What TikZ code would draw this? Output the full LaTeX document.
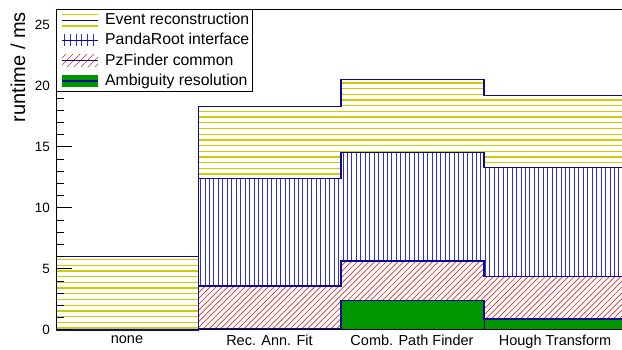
\documentclass[tikz,border=0pt]{standalone}
\usepackage{fontspec}
\setmainfont{Liberation Sans}
\usepackage{xcolor}
\usepackage{tikz}

\definecolor{evtyellow}{RGB}{205,205,0}
\definecolor{pndblue}{RGB}{45,45,230}
\definecolor{pzred}{RGB}{225,45,45}
\definecolor{ambgreen}{RGB}{0,150,0}
\definecolor{navy}{RGB}{10,10,150}

\tikzset{
  evt/.style={draw=evtyellow, line width=1.3pt},
  pnd/.style={draw=pndblue, line width=0.6pt},
  pzf/.style={draw=pzred, line width=0.65pt},
  histline/.style={draw=navy, line width=1.2pt},
  axisline/.style={draw=black, line width=1pt},
  ticklab/.style={anchor=east, inner sep=0pt, font=\fontsize{13.5}{14}\selectfont},
  binlab/.style={anchor=base, inner sep=0pt, font=\fontsize{14.5}{15}\selectfont},
  leglab/.style={anchor=base west, inner sep=0pt, font=\fontsize{15.8}{16}\selectfont},
}

% ms -> pt on the y axis
\newcommand{\ms}[1]{20+12.2*#1}

% hatched boxes: x0, y0, x1, y1 (pt)
\newcommand{\hatchevt}[4]{%
  \begin{scope}
    \clip ({#1},{#2}) rectangle ({#3},{#4});
    \fill[white] ({#1},{#2}) rectangle ({#3},{#4});
    \foreach \hy in {4.9,10.6,...,345} \draw[evt] ({#1},\hy) -- ({#3},\hy);
  \end{scope}}
\newcommand{\hatchpnd}[4]{%
  \begin{scope}
    \clip ({#1},{#2}) rectangle ({#3},{#4});
    \fill[white] ({#1},{#2}) rectangle ({#3},{#4});
    \foreach \hx in {58,62.45,...,630} \draw[pnd] (\hx,{#2}) -- (\hx,{#4});
  \end{scope}}
\newcommand{\hatchpzf}[4]{%
  \begin{scope}
    \clip ({#1},{#2}) rectangle ({#3},{#4});
    \fill[white] ({#1},{#2}) rectangle ({#3},{#4});
    \foreach \hc in {-340,-334.2,...,630} \draw[pzf] (\hc,0) -- ({\hc+350},350);
  \end{scope}}

\begin{document}
\begin{tikzpicture}[x=1pt, y=1pt]
    \useasboundingbox (0,0) rectangle (622,350);

    % stacked bins
    \hatchevt{56}{\ms{0}}{198.5}{\ms{6.0}}

    \fill[ambgreen] (198.5,{\ms{0}}) rectangle (341,{\ms{0.1}});
    \hatchpzf{198.5}{\ms{0.1}}{341}{\ms{3.6}}
    \hatchpnd{198.5}{\ms{3.6}}{341}{\ms{12.4}}
    \hatchevt{198.5}{\ms{12.4}}{341}{\ms{18.35}}

    \fill[ambgreen] (341,{\ms{0}}) rectangle (484,{\ms{2.4}});
    \hatchpzf{341}{\ms{2.4}}{484}{\ms{5.65}}
    \hatchpnd{341}{\ms{5.65}}{484}{\ms{14.55}}
    \hatchevt{341}{\ms{14.55}}{484}{\ms{20.5}}

    \fill[ambgreen] (484,{\ms{0}}) rectangle (627,{\ms{0.9}});
    \hatchpzf{484}{\ms{0.9}}{627}{\ms{4.4}}
    \hatchpnd{484}{\ms{4.4}}{627}{\ms{13.3}}
    \hatchevt{484}{\ms{13.3}}{627}{\ms{19.2}}

    % frame
    \draw[axisline] (56,340) -- (622,340);
    \draw[axisline] (56,20) -- (56,340);
    \draw[axisline] (56,20) -- (622,20);
    \draw[black, line width=0.8pt] (484,{\ms{0}}) -- (484,{\ms{0.9}});

    % outlines of the stacked histograms
    \draw[histline] (56,{\ms{0}}) -- (198.5,{\ms{0}}) -- (198.5,{\ms{0.1}}) -- (341,{\ms{0.1}})
        -- (341,{\ms{2.4}}) -- (484,{\ms{2.4}}) -- (484,{\ms{0.9}}) -- (627,{\ms{0.9}});
    \draw[histline] (56,{\ms{0}}) -- (198.5,{\ms{0}}) -- (198.5,{\ms{3.6}}) -- (341,{\ms{3.6}})
        -- (341,{\ms{5.65}}) -- (484,{\ms{5.65}}) -- (484,{\ms{4.4}}) -- (627,{\ms{4.4}});
    \draw[histline] (56,{\ms{0}}) -- (198.5,{\ms{0}}) -- (198.5,{\ms{12.4}}) -- (341,{\ms{12.4}})
        -- (341,{\ms{14.55}}) -- (484,{\ms{14.55}}) -- (484,{\ms{13.3}}) -- (627,{\ms{13.3}});
    \draw[histline] (56,{\ms{6.0}}) -- (198.5,{\ms{6.0}}) -- (198.5,{\ms{18.35}}) -- (341,{\ms{18.35}})
        -- (341,{\ms{20.5}}) -- (484,{\ms{20.5}}) -- (484,{\ms{19.2}}) -- (627,{\ms{19.2}});

    % y axis
    \foreach \v in {0,...,26}
        \draw[axisline] (56,{\ms{\v}}) -- (64,{\ms{\v}});
    \foreach \v in {0,5,...,25} {
        \draw[axisline] (56,{\ms{\v}}) -- (72,{\ms{\v}});
        \node[ticklab] (ylab\v) at (50,{\ms{\v}}) {\v};
    }
    \node[rotate=90, anchor=base east, inner sep=0pt, font=\fontsize{20}{22}\selectfont]
        (ytitle) at (25,338) {runtime / ms};

    % bin labels
    \node[binlab] (lbnone) at (127,6.5) {none};
    \node[binlab] (lbrec) at (269.5,4) {Rec. Ann. Fit};
    \node[binlab] (lbcomb) at (412,4) {Comb. Path Finder};
    \node[binlab] (lbhough) at (555,4) {Hough Transform};

    % legend
    \draw[fill=white, line width=1pt] (56,258) rectangle (252,340);
    \hatchevt{62}{323.2}{98}{336.4}
    \draw[histline] (62,329.8) -- (98,329.8);
    \foreach \hx in {64.5,70.2,...,98}
        \draw[pnd] (\hx,303.5) -- (\hx,315.5);
    \draw[histline] (62,309.5) -- (98,309.5);
    \begin{scope}
        \clip (62,283.2) rectangle (98,295.2);
        \foreach \hc in {20,27,...,100} \draw[pzf] (\hc,250) -- ({\hc+50},300);
    \end{scope}
    \draw[histline] (62,289.2) -- (98,289.2);
    \fill[ambgreen] (62,262.6) rectangle (98,275.2);
    \draw[histline] (62,268.9) -- (98,268.9);

    \node[leglab] (legevt) at (105,325.3) {Event reconstruction};
    \node[leglab] (legpnd) at (105,305) {PandaRoot interface};
    \node[leglab] (legpzf) at (105,284.7) {PzFinder common};
    \node[leglab] (legamb) at (105,264.4) {Ambiguity resolution};
\end{tikzpicture}
\end{document}
